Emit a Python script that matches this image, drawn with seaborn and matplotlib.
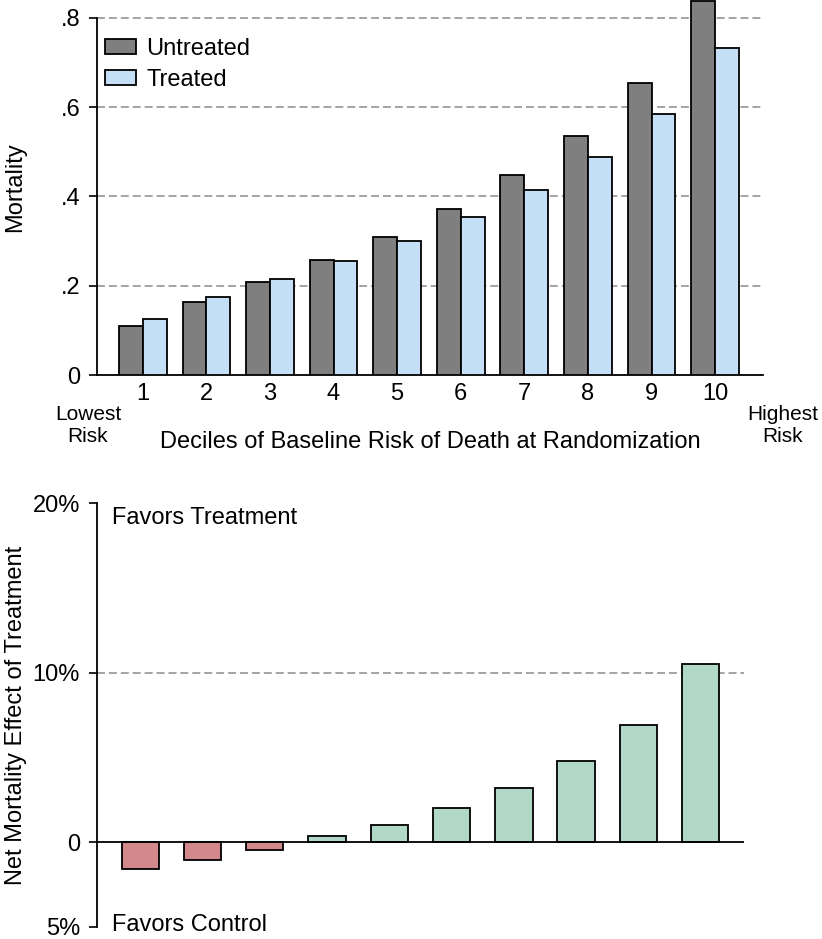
"""
Mortality by decile of baseline risk, untreated vs treated,
plus net mortality effect of treatment per decile.
"""

import numpy as np
import pandas as pd
import matplotlib
matplotlib.use("Agg")
import matplotlib.pyplot as plt
import seaborn as sns


# ─── Data ───────────────────────────────────────────────────────────────────
deciles = ["1", "2", "3", "4", "5", "6", "7", "8", "9", "10"]
untreated = [0.110, 0.164, 0.209, 0.258, 0.309, 0.372, 0.447, 0.536, 0.654, 0.838]
treated   = [0.125, 0.175, 0.214, 0.255, 0.300, 0.353, 0.415, 0.489, 0.584, 0.732]
net_effect = [-1.57, -1.02, -0.43, 0.35, 1.04, 2.03, 3.22, 4.81, 6.92, 10.53]

top_yticks = [0, 0.2, 0.4, 0.6, 0.8]
top_ylabels = ["0", ".2", ".4", ".6", ".8"]
bot_yticks = [-5, 0, 10, 20]
bot_ylabels = ["5%", "0", "10%", "20%"]

GRAY  = "#7f7f7f"
BLUE  = "#c4dff6"
GREEN = "#b2d8c8"
RED   = "#d3898c"
GRID  = "#8c8c8c"
DASH  = (0, (5.2, 2.6))
FS    = 17

sns.set_style("white")
plt.rcParams["font.family"] = ["Liberation Sans", "DejaVu Sans"]
plt.rcParams.update({
    "text.color": "black", "axes.labelcolor": "black",
    "xtick.color": "black", "ytick.color": "black",
})

fig = plt.figure(figsize=(8.22, 9.39), dpi=100)
ax1 = fig.add_axes([0.118, 0.6006, 0.810, 0.3994])
ax2 = fig.add_axes([0.1176, 0.0128, 0.7871, 0.4512])


# ─── Top panel: mortality by decile ─────────────────────────────────────────
df_top = pd.DataFrame({
    "decile": deciles * 2,
    "mortality": untreated + treated,
    "group": ["Untreated"] * 10 + ["Treated"] * 10,
})

sns.barplot(data=df_top, x="decile", y="mortality", hue="group",
            palette={"Untreated": GRAY, "Treated": BLUE},
            width=0.75, edgecolor="black", linewidth=1.3,
            saturation=1, ax=ax1, zorder=3)

for y in top_yticks[1:]:
    ax1.axhline(y, color=GRID, ls=DASH, lw=1.1, zorder=1)

ax1.set_xlim(-0.72, 9.75)
ax1.set_ylim(0, 0.84)
ax1.set_yticks(top_yticks)
ax1.set_yticklabels(top_ylabels)
ax1.set_xlabel("Deciles of Baseline Risk of Death at Randomization", fontsize=FS)
ax1.set_ylabel("Mortality", fontsize=FS)
ax1.tick_params(axis="y", left=True, length=6, width=1.2, labelsize=FS, pad=6)
ax1.tick_params(axis="x", bottom=False, length=0, labelsize=FS, pad=6)
ax1.xaxis.set_label_coords(0.50, -0.148)
ax1.yaxis.set_label_coords(-0.106, 0.5)

for s in ["top", "right"]:
    ax1.spines[s].set_visible(False)
ax1.spines["left"].set_bounds(0, 0.8)
for s in ["left", "bottom"]:
    ax1.spines[s].set_color("black")
    ax1.spines[s].set_linewidth(1.3)

ax1.legend(loc="upper left", bbox_to_anchor=(-0.013, 0.943), frameon=False,
           fontsize=FS, handlelength=1.3, handleheight=0.65,
           handletextpad=0.45, labelspacing=0.38, borderaxespad=0.3)

fig.text(88 / 822, 1 - 426 / 939, "Lowest\nRisk", ha="center", va="center",
         fontsize=15, linespacing=1.2)
fig.text(783 / 822, 1 - 425 / 939, "Highest\nRisk", ha="center", va="center",
         fontsize=15, linespacing=1.2)


# ─── Bottom panel: net effect ───────────────────────────────────────────────
df_bot = pd.DataFrame({
    "decile": deciles,
    "effect": net_effect,
    "sign": ["neg" if v < 0 else "pos" for v in net_effect],
})

sns.barplot(data=df_bot, x="decile", y="effect", hue="sign",
            palette={"neg": RED, "pos": GREEN}, dodge=False, legend=False,
            width=0.6, edgecolor="black", linewidth=1.3,
            saturation=1, ax=ax2, zorder=3)

ax2.axhline(10, color=GRID, ls=DASH, lw=1.1, zorder=1)
ax2.axhline(0, color="black", lw=1.3, zorder=4)

ax2.set_xlim(-0.70, 9.69)
ax2.set_ylim(-5, 20)
ax2.set_yticks(bot_yticks)
ax2.set_yticklabels(bot_ylabels)
ax2.set_xticks([])
ax2.set_xlabel("")
ax2.set_ylabel("Net Mortality Effect of Treatment", fontsize=FS)
ax2.tick_params(axis="y", left=True, length=6, width=1.2, labelsize=FS, pad=6)
ax2.yaxis.set_label_coords(-0.108, 0.5)

for s in ["top", "right", "bottom"]:
    ax2.spines[s].set_visible(False)
ax2.spines["left"].set_color("black")
ax2.spines["left"].set_linewidth(1.3)

ax2.text(0.024, 19.15, "Favors Treatment", fontsize=FS, va="center", ha="left",
         transform=ax2.get_yaxis_transform())
ax2.text(0.024, -4.9, "Favors Control", fontsize=FS, va="center", ha="left",
         transform=ax2.get_yaxis_transform())

fig.savefig("out.png", dpi=100)
